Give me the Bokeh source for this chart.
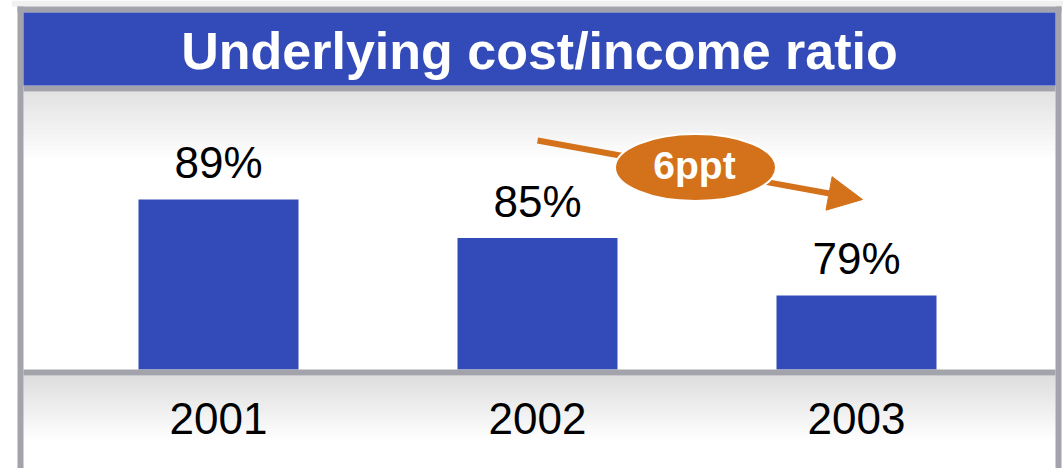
from bokeh.plotting import figure
from bokeh.models import Range1d, FactorRange, Arrow, NormalHead
from bokeh.core.properties import value
from bokeh.embed import file_html
from bokeh.resources import INLINE

# ---- data ----
years = ["2001", "2002", "2003"]
ratios = [89, 85, 79]
ratio_labels = ["89%", "85%", "79%"]
title_text = "Underlying cost/income ratio"
change_label = "6ppt"

# ---- styles ----
BLUE = "#334bb8"
GREY = "#a3a3ab"
ORANGE = "#d4711b"
FONT = "Liberation Sans"

W, H = 1063, 468
LB = 11          # left border of the frame
PAD = 0.1489     # absolute factor-range padding (each side)
SCALE = (W - LB) / (len(years) + 2 * PAD)


def sx(px):
    """page x (pixels) -> synthetic categorical coordinate"""
    return (px - LB) / SCALE - PAD


p = figure(width=W, height=H, output_backend="svg", toolbar_location=None,
           x_range=FactorRange(factors=years, range_padding=PAD,
                               range_padding_units="absolute"),
           y_range=Range1d(H, 0), min_border=0, min_border_left=LB,
           x_axis_location=None, y_axis_location=None,
           outline_line_color=None, background_fill_color="white",
           border_fill_color="white")
p.grid.visible = False
BASE = 71.3
p.extra_y_ranges = {"val": Range1d(60.99, 109.74)}

L_IN, R_IN = sx(23), sx(1055)


# background gradients (1px strips)
def gradient(y0, y1, c0, c1):
    n = int(y1 - y0)
    tops, bots, cols = [], [], []
    for i in range(n):
        t = i / max(n - 1, 1)
        g = int(round(c0 + (c1 - c0) * t))
        tops.append(y0 + i)
        bots.append(y0 + i + 1.2)
        cols.append("#%02x%02x%02x" % (g, g, g))
    p.quad(left=L_IN, right=R_IN, top=tops, bottom=bots, fill_color=cols, line_color=None)


p.quad(left=sx(LB), right=sx(W), top=0, bottom=6, fill_color="#f0f0f0", line_color=None)
gradient(91, 160, 222, 255)
gradient(375, 441, 217, 255)

# bars
p.vbar(x=years, top=ratios, bottom=BASE, width=0.5016, fill_color=BLUE,
       line_color=None, y_range_name="val")

# frame / borders
p.quad(left=[sx(17), sx(17), sx(1055), L_IN, L_IN],
       right=[sx(1061), sx(23), sx(1061), R_IN, R_IN],
       top=[6, 6, 6, 85, 369], bottom=[12, H, H, 91, 375],
       fill_color=GREY, line_color=None)
# title band
p.quad(left=L_IN, right=R_IN, top=12, bottom=85, fill_color=BLUE, line_color=None)
p.text(x=sx(539), y=50, text=[title_text], text_color="white", text_font=value(FONT),
       text_font_size="52px", text_font_style="bold", text_align="center",
       text_baseline="alphabetic")

# value labels
p.text(x=years, y=ratios, text=ratio_labels, y_range_name="val",
       y_offset=-37, text_color="black", text_font=value(FONT), text_font_size="44px",
       text_align="center", text_baseline="alphabetic")

# category labels
p.text(x=years, y=[418] * len(years), text=years,
       text_color="black", text_font=value(FONT), text_font_size="44px",
       text_align="center", text_baseline="alphabetic")

# trend arrow
p.add_layout(Arrow(x_start=sx(537), y_start=140, x_end=sx(862), y_end=199,
                   line_color=ORANGE, line_width=6,
                   end=NormalHead(size=34, fill_color=ORANGE, line_color=ORANGE)))
e = p.ellipse(x=sx(695), y=167, width=161, height=67, width_units="screen",
              height_units="screen", fill_color=ORANGE,
              line_color="white", line_width=2)
e.level = "overlay"
t = p.text(x=sx(694), y=165, text=[change_label], text_color="white", text_font=value(FONT),
           text_font_size="39px", text_font_style="bold", text_align="center",
           text_baseline="alphabetic")
t.level = "overlay"

open("out.html", "w").write(file_html(p, INLINE))
